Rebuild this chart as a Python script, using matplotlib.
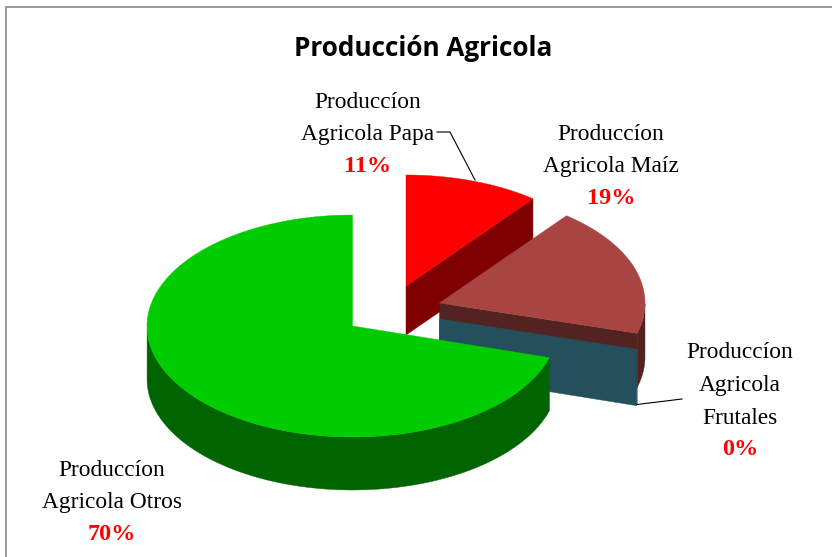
import numpy as np
import matplotlib
matplotlib.use("Agg")
import matplotlib.pyplot as plt
from matplotlib.patches import Polygon

# values of the slices, in percent, clockwise from 12 o'clock
categories = ["Papa", "Maíz", "Frutales", "Otros"]
values = [10.6, 18.8, 0.2, 70.4]
title = "Producción Agricola"
name_lines = [
    ["Producc\u00edon", "Agricola Papa"],
    ["Producc\u00edon", "Agricola Maíz"],
    ["Producc\u00edon", "Agricola", "Frutales"],
    ["Producc\u00edon", "Agricola Otros"],
]

top_colors = ["#ff0000", "#a84543", "#244f5c", "#00cc00"]
side_colors = ["#7f0000", "#522320", "#244f5c", "#006400"]

# exploded pie layout, in pixels of the picture
centers = [(406, 286), (439.5, 303), (439.5, 319), (352.5, 326)]
depths = [49, 54, 55, 53]
label_pos = [(368, 102), (611, 134), (740, 353), (112, 470)]
line_step = 32.5
rx, ry = 205.5, 111


def rim(center, angles):
    # angles in degrees clockwise from the top of the tilted pie
    a = np.radians(angles)
    return np.column_stack([center[0] + rx * np.sin(a), center[1] - ry * np.cos(a)])


def draw_slice(ax, center, depth, start, end, top, side, z):
    angles = np.linspace(start, end, 120)
    arc = rim(center, angles)
    shift = np.array([0, depth])
    # outer wall, only the front half of the pie shows
    front = angles[(angles >= 90) & (angles <= 270)]
    if len(front) > 1:
        edge = rim(center, front)
        ax.add_patch(Polygon(np.vstack([edge, (edge + shift)[::-1]]), fc=side, ec=side, lw=0.3, zorder=z))
    # cut wall at the end of the slice, faces us when it points to the right
    if end < 180 or start == end:
        c = np.array(center, dtype=float)
        cut = arc[-1]
        ax.add_patch(Polygon([c, cut, cut + shift, c + shift], fc=side, ec=side, lw=0.3, zorder=z))
    ax.add_patch(Polygon(np.vstack([[center], arc]), fc=top, ec=top, lw=0.3, zorder=z + 0.5))


fig = plt.figure(figsize=(8.32, 5.57), dpi=100)
ax = fig.add_axes([0, 0, 1, 1])
ax.set_xlim(0, 832)
ax.set_ylim(557, 0)
ax.axis("off")

# chart frame, only top and left fall inside the picture
ax.plot([832, 6, 6], [6.5, 6.5, 557], color="#868686", lw=1.2, zorder=1)

ends = np.cumsum(values) * 3.6
starts = np.concatenate([[0], ends[:-1]])
for i in range(len(values)):
    draw_slice(ax, centers[i], depths[i], starts[i], ends[i], top_colors[i], side_colors[i], 2 + i)

# leader lines
ax.plot([437, 450, 475], [132, 132, 180], color="black", lw=0.8, zorder=8)
ax.plot([637, 682], [404.5, 399], color="black", lw=0.8, zorder=8)

ax.text(423, 48.5, title, ha="center", va="center", family="Open Sans", weight="bold", fontsize=18.8, color="black")

for i in range(len(values)):
    x, y = label_pos[i]
    for j, line in enumerate(name_lines[i]):
        ax.text(x, y + j * line_step, line, ha="center", va="center", family="Liberation Serif",
                fontsize=16.8, color="black", zorder=9)
    ax.text(x, y + len(name_lines[i]) * line_step - 1, f"{values[i]:.0f}%", ha="center", va="center",
            family="Liberation Serif", weight="bold", fontsize=17.5, color="#ff0000", zorder=9)

fig.savefig("out.png", dpi=100, facecolor="white")
